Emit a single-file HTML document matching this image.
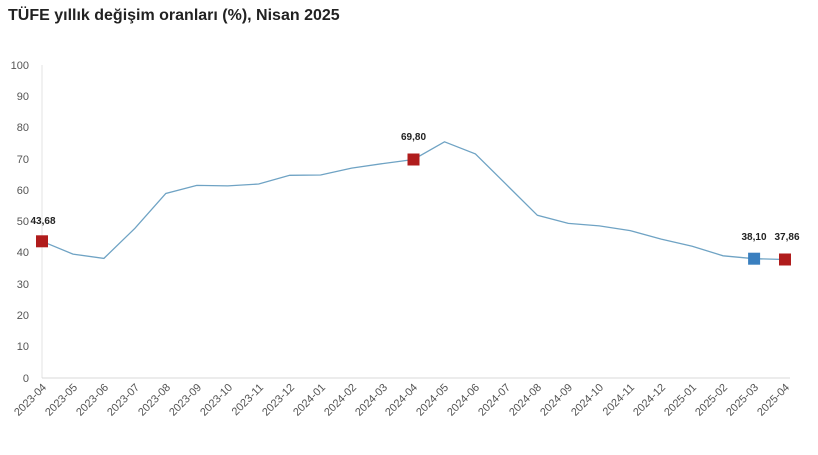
<!DOCTYPE html>
<html><head><meta charset="utf-8"><style>
body{margin:0;background:#fff;width:818px;height:450px;overflow:hidden;font-family:"Liberation Sans",sans-serif}
</style></head><body>
<svg width="818" height="450" xmlns="http://www.w3.org/2000/svg" font-family="Liberation Sans, sans-serif">
<text x="8" y="20" font-size="16" font-weight="bold" fill="#222">TÜFE yıllık değişim oranları (%), Nisan 2025</text>
<line x1="42" y1="65" x2="42" y2="378" stroke="#e3e3e3"/>
<line x1="42" y1="378" x2="790" y2="378" stroke="#d8d8d8"/>
<g font-size="11" fill="#555" text-anchor="end">
<text x="29" y="69">100</text><text x="29" y="100">90</text><text x="29" y="131">80</text><text x="29" y="163">70</text><text x="29" y="194">60</text><text x="29" y="225">50</text><text x="29" y="256">40</text><text x="29" y="288">30</text><text x="29" y="319">20</text><text x="29" y="350">10</text><text x="29" y="382">0</text>
</g>
<polyline fill="none" stroke="#6fa3c4" stroke-width="1.3" points="42,241.3 72.96,254.1 103.9,258.4 134.9,228.3 165.8,193.5 196.8,185.4 227.8,185.9 258.7,184 289.7,175.3 320.6,175 351.6,168.1 382.6,163.6 413.5,159.5 444.5,141.8 475.4,153.9 506.4,184.6 537.4,215.3 568.3,223.4 599.3,225.9 630.2,230.6 661.2,239.1 692.2,246.2 723.1,255.8 754.1,258.7 785,259.5"/>
<rect x="36" y="235.3" width="12" height="12" fill="#b01c1c"/>
<rect x="407.5" y="153.5" width="12" height="12" fill="#b01c1c"/>
<rect x="748.1" y="252.7" width="12" height="12" fill="#3a7fbf"/>
<rect x="779" y="253.5" width="12" height="12" fill="#b01c1c"/>
<g font-size="10" font-weight="bold" fill="#222" text-anchor="middle">
<text x="43" y="224">43,68</text><text x="413.5" y="140">69,80</text><text x="754" y="240">38,10</text><text x="787" y="240">37,86</text>
</g>
<g font-size="11" fill="#555" text-anchor="end">
<text transform="translate(47,388) rotate(-45)">2023-04</text>
<text transform="translate(78,388) rotate(-45)">2023-05</text>
<text transform="translate(109,388) rotate(-45)">2023-06</text>
<text transform="translate(140,388) rotate(-45)">2023-07</text>
<text transform="translate(171,388) rotate(-45)">2023-08</text>
<text transform="translate(202,388) rotate(-45)">2023-09</text>
<text transform="translate(233,388) rotate(-45)">2023-10</text>
<text transform="translate(264,388) rotate(-45)">2023-11</text>
<text transform="translate(295,388) rotate(-45)">2023-12</text>
<text transform="translate(326,388) rotate(-45)">2024-01</text>
<text transform="translate(357,388) rotate(-45)">2024-02</text>
<text transform="translate(388,388) rotate(-45)">2024-03</text>
<text transform="translate(418,388) rotate(-45)">2024-04</text>
<text transform="translate(449,388) rotate(-45)">2024-05</text>
<text transform="translate(480,388) rotate(-45)">2024-06</text>
<text transform="translate(511,388) rotate(-45)">2024-07</text>
<text transform="translate(542,388) rotate(-45)">2024-08</text>
<text transform="translate(573,388) rotate(-45)">2024-09</text>
<text transform="translate(604,388) rotate(-45)">2024-10</text>
<text transform="translate(635,388) rotate(-45)">2024-11</text>
<text transform="translate(666,388) rotate(-45)">2024-12</text>
<text transform="translate(697,388) rotate(-45)">2025-01</text>
<text transform="translate(728,388) rotate(-45)">2025-02</text>
<text transform="translate(759,388) rotate(-45)">2025-03</text>
<text transform="translate(790,388) rotate(-45)">2025-04</text>
</g>
</svg>
</body></html>
